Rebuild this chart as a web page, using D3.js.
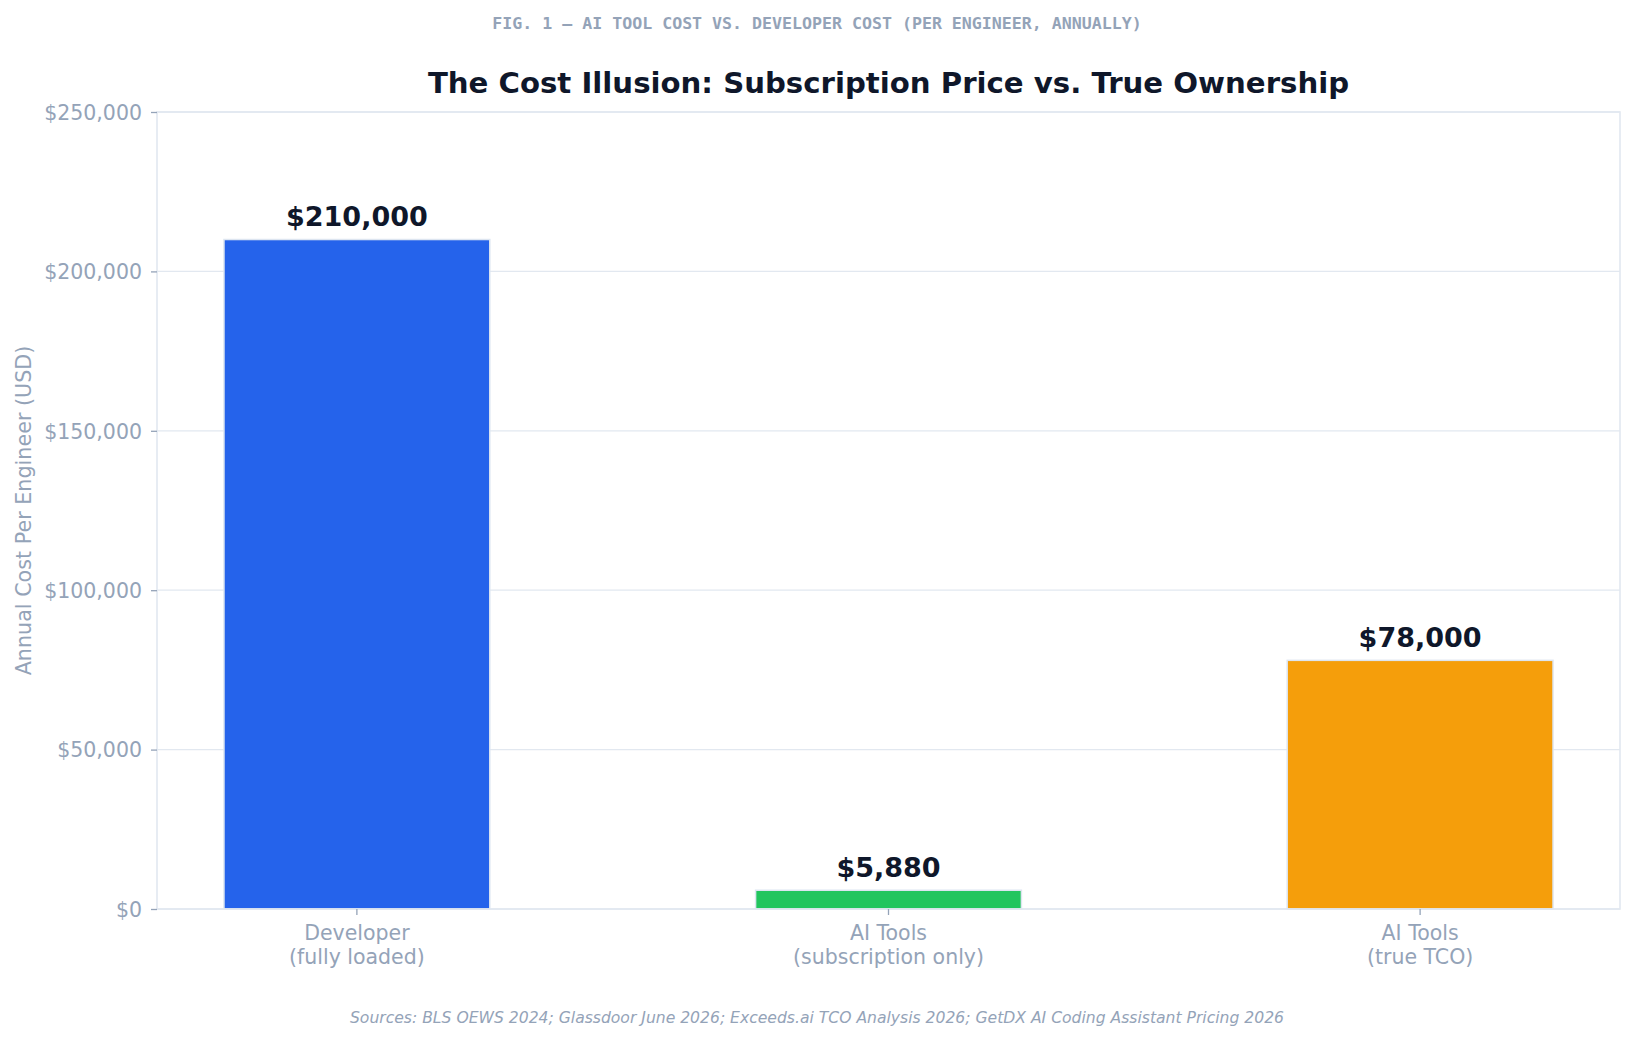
<!DOCTYPE html>
<html>
<head>
<meta charset="utf-8">
<script src="https://cdn.jsdelivr.net/npm/d3@7/dist/d3.min.js"></script>
<style>
  html, body { margin: 0; padding: 0; background: #ffffff; }
  svg { display: block; }
</style>
</head>
<body>
<svg id="chart" width="1634" height="1041"></svg>
<script>
// ---- Data ----
const categories = ["Developer\n(fully loaded)", "AI Tools\n(subscription only)", "AI Tools\n(true TCO)"];
const values = [210000, 5880, 78000];
const barColors = ["#2563eb", "#22c55e", "#f59e0b"];
const yTicks = [0, 50000, 100000, 150000, 200000, 250000];
const figCaption = "FIG. 1 — AI TOOL COST VS. DEVELOPER COST (PER ENGINEER, ANNUALLY)";
const chartTitle = "The Cost Illusion: Subscription Price vs. True Ownership";
const yAxisLabel = "Annual Cost Per Engineer (USD)";
const sourcesText = "Sources: BLS OEWS 2024; Glassdoor June 2026; Exceeds.ai TCO Analysis 2026; GetDX AI Coding Assistant Pricing 2026";

// ---- Layout ----
const W = 1634, H = 1041;
const plot = { left: 157, right: 1620, top: 112, bottom: 909 };
const gray = "#94a3b8";
const grid = "#e2e8f0";
const dark = "#0f172a";
const font = "'DejaVu Sans', Verdana, sans-serif";

const svg = d3.select("#chart");

const x = d3.scaleBand()
  .domain(categories)
  .range([plot.left, plot.right])
  .paddingInner(0.5)
  .paddingOuter(0.126);

const y = d3.scaleLinear()
  .domain([0, 250000])
  .range([plot.bottom, plot.top]);

const fmt = v => "$" + d3.format(",")(v);

// Gridlines
svg.append("g")
  .selectAll("line")
  .data(yTicks)
  .join("line")
  .attr("x1", plot.left).attr("x2", plot.right)
  .attr("y1", d => y(d)).attr("y2", d => y(d))
  .attr("stroke", grid).attr("stroke-width", 1.3);

// Bars
svg.append("g")
  .selectAll("rect")
  .data(values)
  .join("rect")
  .attr("x", (d, i) => x(categories[i]))
  .attr("width", x.bandwidth())
  .attr("y", d => y(d))
  .attr("height", d => y(0) - y(d))
  .attr("fill", (d, i) => barColors[i])
  .attr("stroke", "#dde5f0")
  .attr("stroke-width", 1.5);

// Frame (spines)
svg.append("rect")
  .attr("x", plot.left).attr("y", plot.top)
  .attr("width", plot.right - plot.left)
  .attr("height", plot.bottom - plot.top)
  .attr("fill", "none")
  .attr("stroke", grid).attr("stroke-width", 1.6);

// Y axis
const yAxis = d3.axisLeft(y)
  .tickValues(yTicks)
  .tickFormat(fmt)
  .tickSize(6)
  .tickPadding(9);
const gy = svg.append("g")
  .attr("transform", `translate(${plot.left},0)`)
  .call(yAxis);
gy.select(".domain").remove();
gy.selectAll(".tick line").attr("stroke", gray).attr("stroke-width", 1.3);
gy.selectAll(".tick text")
  .attr("fill", gray)
  .style("font-family", font)
  .style("font-size", "20.5px")
  .attr("dy", "0.36em");

// X axis
const xAxis = d3.axisBottom(x).tickSize(6).tickPadding(10).tickFormat(() => "");
const gx = svg.append("g")
  .attr("transform", `translate(0,${plot.bottom})`)
  .call(xAxis);
gx.select(".domain").remove();
gx.selectAll(".tick line").attr("stroke", gray).attr("stroke-width", 1.3);
gx.selectAll(".tick text").remove();
gx.selectAll(".tick").each(function(d) {
  const lines = d.split("\n");
  const t = d3.select(this).append("text")
    .attr("text-anchor", "middle")
    .attr("fill", gray)
    .style("font-family", font)
    .style("font-size", "20.5px");
  lines.forEach((ln, i) => {
    t.append("tspan").attr("x", 0).attr("y", 31 + i * 24).text(ln);
  });
});

// Value labels
svg.append("g")
  .selectAll("text")
  .data(values)
  .join("text")
  .attr("x", (d, i) => x(categories[i]) + x.bandwidth() / 2)
  .attr("y", d => y(d) - 13.5)
  .attr("text-anchor", "middle")
  .attr("fill", dark)
  .style("font-family", font)
  .style("font-weight", "bold")
  .style("font-size", "27px")
  .text(d => fmt(d));

// Y axis label
svg.append("text")
  .attr("transform", `translate(31,${(plot.top + plot.bottom) / 2}) rotate(-90)`)
  .attr("text-anchor", "middle")
  .attr("fill", gray)
  .style("font-family", font)
  .style("font-size", "20.7px")
  .text(yAxisLabel);

// Title
svg.append("text")
  .attr("x", (plot.left + plot.right) / 2)
  .attr("y", 92.5)
  .attr("text-anchor", "middle")
  .attr("fill", dark)
  .style("font-family", font)
  .style("font-weight", "bold")
  .style("font-size", "29.2px")
  .text(chartTitle);

// Figure caption
svg.append("text")
  .attr("x", W / 2)
  .attr("y", 29)
  .attr("text-anchor", "middle")
  .attr("fill", gray)
  .style("font-family", "'DejaVu Sans Mono', monospace")
  .style("font-weight", "bold")
  .style("font-size", "16.6px")
  .text(figCaption);

// Sources
svg.append("text")
  .attr("x", W / 2)
  .attr("y", 1023)
  .attr("text-anchor", "middle")
  .attr("fill", gray)
  .style("font-family", font)
  .style("font-style", "italic")
  .style("font-size", "15.6px")
  .text(sourcesText);
</script>
</body>
</html>
